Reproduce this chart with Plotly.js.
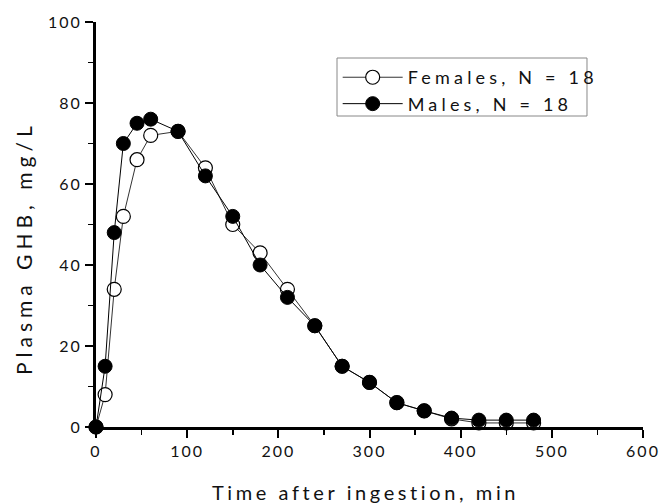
<!DOCTYPE html>
<html>
<head>
<meta charset="utf-8">
<script src="https://cdn.plot.ly/plotly-3.0.1.min.js"></script>
<style>
body{margin:0;padding:0;background:#fff;}
#chart{width:661px;height:504px;}
.legendtext{letter-spacing:4.2px;}
.xtick text,.ytick text{letter-spacing:2px;}
.annotation[data-index="0"] .annotation-text{letter-spacing:3.6px;}
.annotation[data-index="1"] .annotation-text{letter-spacing:5px;}
</style>
</head>
<body>
<div id="chart"></div>
<script>
const timeMin = [0, 10, 20, 30, 45, 60, 90, 120, 150, 180, 210, 240, 270, 300, 330, 360, 390, 420, 450, 480];
const females = [0, 8, 34, 52, 66, 72, 73, 64, 50, 43, 34, 25, 15, 11, 6, 4, 2, 1, 1, 1];
const males = [0, 15, 48, 70, 75, 76, 73, 62, 52, 40, 32, 25, 15, 11, 6, 4, 2.2, 1.7, 1.7, 1.7];
const seriesNames = ["Females, N = 18", "Males, N = 18"];
const xTitle = "Time after ingestion, min";
const yTitle = "Plasma GHB, mg/L";

const traces = [
  {
    x: timeMin, y: females, name: seriesNames[0], type: 'scatter', mode: 'lines+markers',
    line: {color: '#333', width: 1},
    marker: {symbol: 'circle', size: 14, color: '#fff', line: {color: '#000', width: 1.2}},
    cliponaxis: false
  },
  {
    x: timeMin, y: males, name: seriesNames[1], type: 'scatter', mode: 'lines+markers',
    line: {color: '#000', width: 1},
    marker: {symbol: 'circle', size: 14, color: '#000', line: {color: '#000', width: 1}},
    cliponaxis: false
  }
];

const layout = {
  width: 661, height: 504,
  margin: {l: 96, r: 18, t: 22, b: 77},
  paper_bgcolor: '#fff', plot_bgcolor: '#fff',
  font: {family: 'Lato, sans-serif', color: '#111', size: 16},
  showlegend: true,
  legend: {
    x: 0.44, y: 0.911, xanchor: 'left', yanchor: 'top',
    bordercolor: 'rgba(0,0,0,0)', borderwidth: 1, bgcolor: 'rgba(0,0,0,0)',
    font: {size: 18, color: '#111'}, itemwidth: 60, tracegroupgap: 0
  },
  shapes: [
    {type: 'rect', xref: 'paper', yref: 'paper', x0: 0.4406, x1: 0.8976, y0: 0.7679, y1: 0.9111,
     line: {color: '#888', width: 1}, fillcolor: '#fff', layer: 'above'}
  ],
  xaxis: {
    range: [0, 600], dtick: 100, tick0: 0,
    showgrid: false, zeroline: false,
    showline: true, linecolor: '#000', linewidth: 3,
    ticks: 'outside', ticklen: 8, tickwidth: 2, tickcolor: '#000',
    minor: {dtick: 50, ticks: 'outside', ticklen: 5, tickwidth: 1.5, tickcolor: '#000'},
    tickfont: {size: 16, color: '#111'}
  },
  yaxis: {
    range: [0, 100], dtick: 20, tick0: 0,
    showgrid: false, zeroline: false,
    showline: true, linecolor: '#000', linewidth: 3,
    ticks: 'outside', ticklen: 8, tickwidth: 2, tickcolor: '#000',
    minor: {dtick: 10, ticks: 'outside', ticklen: 5, tickwidth: 1.5, tickcolor: '#000'},
    tickfont: {size: 16, color: '#111'}
  },
  annotations: [
    {text: xTitle, xref: 'paper', yref: 'paper', x: 0.492, y: -0.160, xanchor: 'center', yanchor: 'middle',
     showarrow: false, font: {size: 20, color: '#111'}},
    {text: yTitle, xref: 'paper', yref: 'paper', x: -0.1316, y: 0.442, xanchor: 'center', yanchor: 'middle',
     textangle: -90, showarrow: false, font: {size: 21, color: '#111'}}
  ]
};

Plotly.newPlot('chart', traces, layout, {displayModeBar: false, staticPlot: true});
</script>
</body>
</html>
